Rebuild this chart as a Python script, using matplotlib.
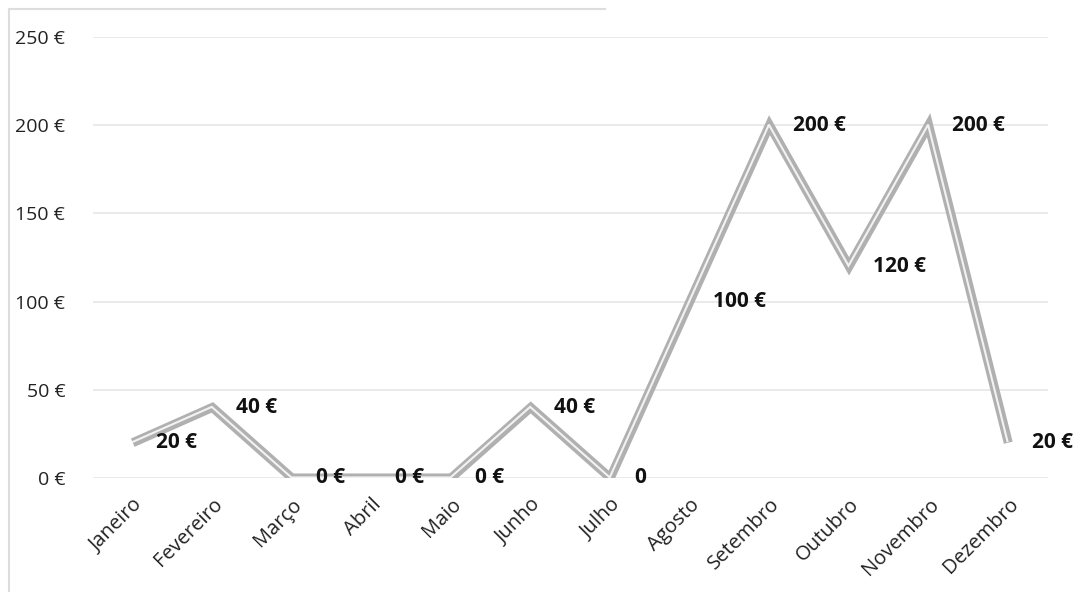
import matplotlib
matplotlib.use('Agg')
import matplotlib.pyplot as plt
import matplotlib.transforms as mtransforms
from matplotlib.ticker import FuncFormatter

FONT = ['Open Sans', 'DejaVu Sans']
plt.rcParams['font.family'] = FONT

meses = ['Janeiro', 'Fevereiro', 'Março', 'Abril', 'Maio', 'Junho',
         'Julho', 'Agosto', 'Setembro', 'Outubro', 'Novembro', 'Dezembro']
valores = [20, 40, 0, 0, 0, 40, 0, 100, 200, 120, 200, 20]
rotulos = ['20 €', '40 €', '0 €', '0 €', '0 €', '40 €', '0',
           '100 €', '200 €', '120 €', '200 €', '20 €']
y_ticks = [0, 50, 100, 150, 200, 250]

GRID = '#e6e6e6'
TUBE = '#b0b0b0'
SHINE = '#f2f2f2'

fig = plt.figure(figsize=(10.81, 5.92), dpi=100, facecolor='white')
ax = fig.add_axes([0.086, 0.1926, 0.8835, 0.7449])

x = list(range(len(meses)))

# tubo cinzento com brilho claro por cima
ax.plot(x, valores, color=TUBE, lw=6.5, solid_joinstyle='miter',
        solid_capstyle='butt', zorder=3)
shift = mtransforms.offset_copy(ax.transData, fig=fig, x=-0.4, y=0.4, units='points')
ax.plot(x, valores, color=SHINE, lw=1.5, solid_joinstyle='miter',
        solid_capstyle='butt', transform=shift, zorder=4)

for xi, v, txt in zip(x, valores, rotulos):
    ax.annotate(txt, (xi, v), xytext=(17, 0), textcoords='offset points',
                ha='left', va='center', fontsize=15, fontweight='bold',
                color='#111111', zorder=5, annotation_clip=False)

ax.set_xlim(-0.5, len(meses) - 0.5)
ax.set_ylim(0, 250)
ax.set_yticks(y_ticks)
ax.yaxis.set_major_formatter(FuncFormatter(lambda v, p: f'{v:.0f} €'))
ax.set_xticks(x)
ax.set_xticklabels(meses, rotation=45, ha='right', rotation_mode='anchor')

ax.grid(axis='y', color=GRID, lw=1.2)
ax.set_axisbelow(True)
for s in ax.spines.values():
    s.set_visible(False)
ax.tick_params(axis='both', length=0, colors='#222222')
ax.tick_params(axis='y', pad=20, labelsize=14)
ax.tick_params(axis='x', pad=12, labelsize=14.5)

# moldura da área do gráfico
fig.add_artist(plt.Line2D([0.008, 0.008], [0.0, 0.985], color='#dddddd', lw=1.5))
fig.add_artist(plt.Line2D([0.008, 0.56], [0.985, 0.985], color='#dddddd', lw=1.5))

fig.savefig('out.png', dpi=100, facecolor='white')
